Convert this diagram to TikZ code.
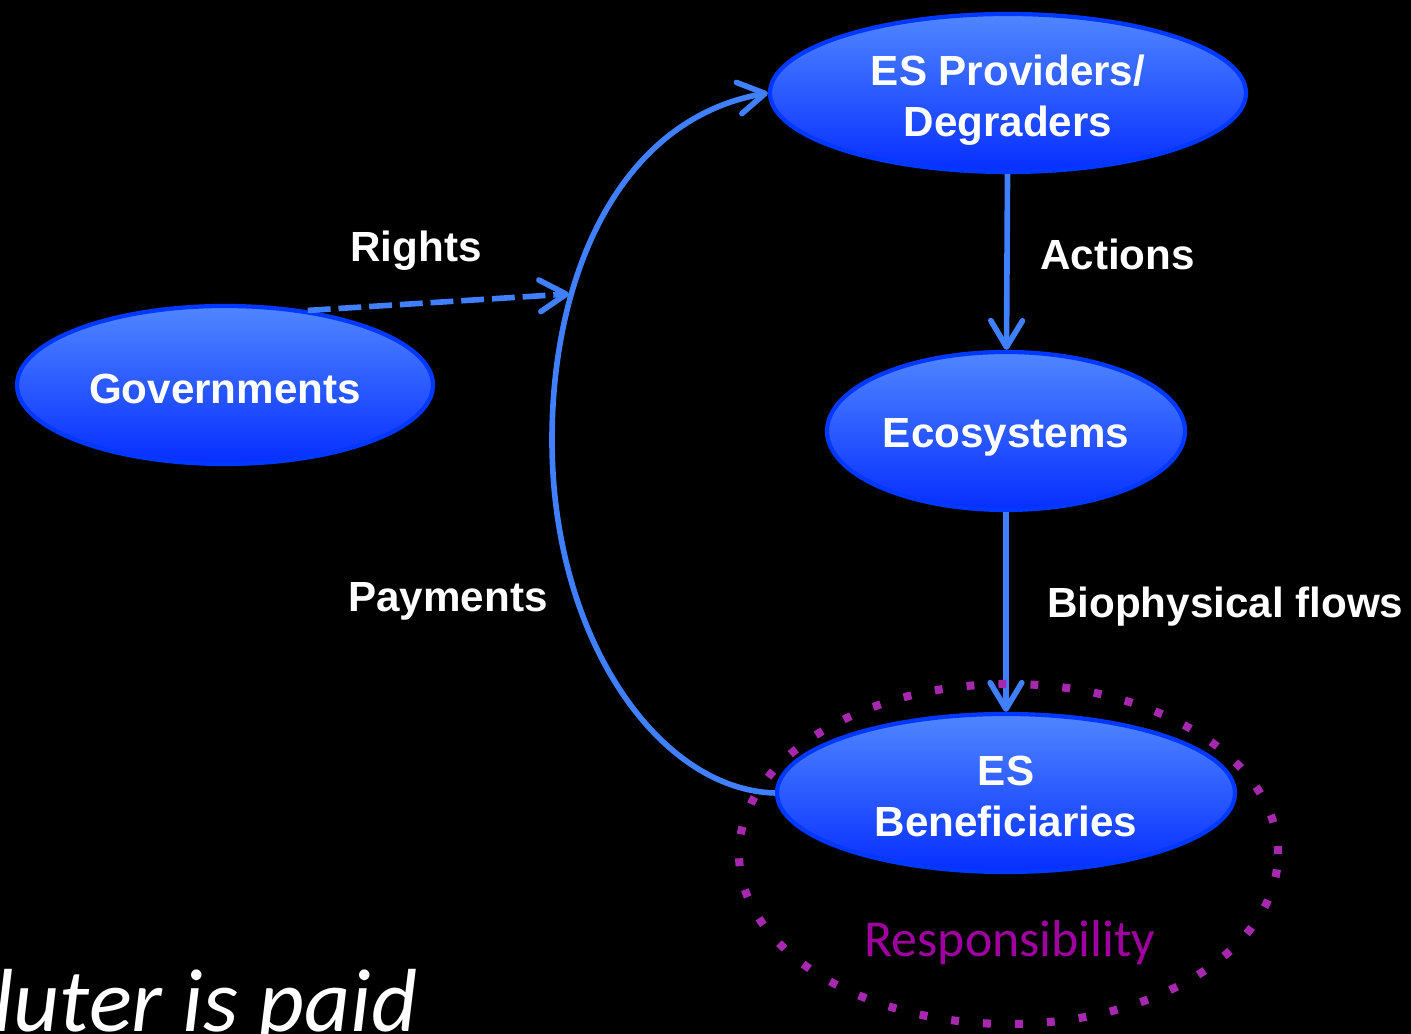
\documentclass[tikz,border=0pt]{standalone}
\usepackage{fontspec}
\setmainfont{Liberation Sans}
\newfontfamily\gillfont{Carlito}
\usetikzlibrary{positioning, shapes.geometric, arrows.meta}

\begin{document}
\begin{tikzpicture}[
    >={Straight Barb[length=15pt, width=18pt, round]},
]

\definecolor{arrow_color}{RGB}{64,128,255}
\definecolor{blob_top}{RGB}{80,134,255}
\definecolor{blob_bottom}{RGB}{6,46,255}
\definecolor{blob_border}{RGB}{0,56,255}
\definecolor{ring_color}{RGB}{165,40,175}
\definecolor{resp_color}{RGB}{160,0,160}

\tikzstyle{blob} = [ellipse, inner sep=0pt, minimum height=3.16cm, draw=blob_border, line width=2.4pt, top color=blob_top, bottom color=blob_bottom, text=white, align=center, font=\bfseries\fontsize{24}{29}\selectfont]
\tikzstyle{lbl} = [text=white, font=\bfseries\fontsize{24}{29}\selectfont]
\tikzstyle{arr} = [->, draw=arrow_color, line width=3.2pt]

\useasboundingbox (0,0) rectangle (28.22,20.68);
\fill[black] (0,0) rectangle (28.22,20.68);

\node (prov) [blob, minimum width=9.52cm, text height=1.9cm] at (20.16,18.82) {ES Providers/\\Degraders};
\node (eco) [blob, minimum width=7.16cm, text height=0.82cm, below of=prov, node distance=6.76cm, xshift=-0.04cm] {Ecosystems};
\node (ben) [blob, minimum width=9.16cm, text height=1.75cm, below of=eco, node distance=7.24cm] {ES\\Beneficiaries};
\node (gov) [blob, minimum width=8.32cm, text height=0.76cm] at (4.5,12.98) {Governments};

\node (rights) [lbl] at (8.32,15.66) {Rights};
\node (actions) [lbl, anchor=west] at (20.68,15.6) {Actions};
\node (payments) [lbl] at (8.96,8.66) {Payments};
\node (flows) [lbl, anchor=west] at (20.82,8.54) {Biophysical flows};

\coordinate (rights_end) at (11.38,14.8);
\coordinate (bend) at (11.04,11.88);

\draw[arr] (prov) -- (eco);
\draw[arr] (eco) -- (ben);
\draw[arr, dash pattern=on 13pt off 4.5pt] (gov.42) -- (rights_end);
\draw[arr] (ben.west) .. controls (13.2,4.88) and (11.04,7.88) .. (bend)
    .. controls (11.04,15.2) and (12.4,18.3) .. (prov.west);

% responsibility ring
\draw[ring_color, line width=4.6pt, dash pattern=on 4.5pt off 13.7pt] (20.17,3.6) ellipse (5.39cm and 3.4cm);
\node (resp) [text=resp_color, font=\gillfont\fontsize{29.5}{34}\selectfont] at (20.2,1.82) {Responsibility};

\node (paid) [anchor=base west, text=white, inner sep=0pt, font=\gillfont\itshape\fontsize{51}{60}\selectfont] at (-0.14,0.04) {luter is paid};

\end{tikzpicture}
\end{document}
